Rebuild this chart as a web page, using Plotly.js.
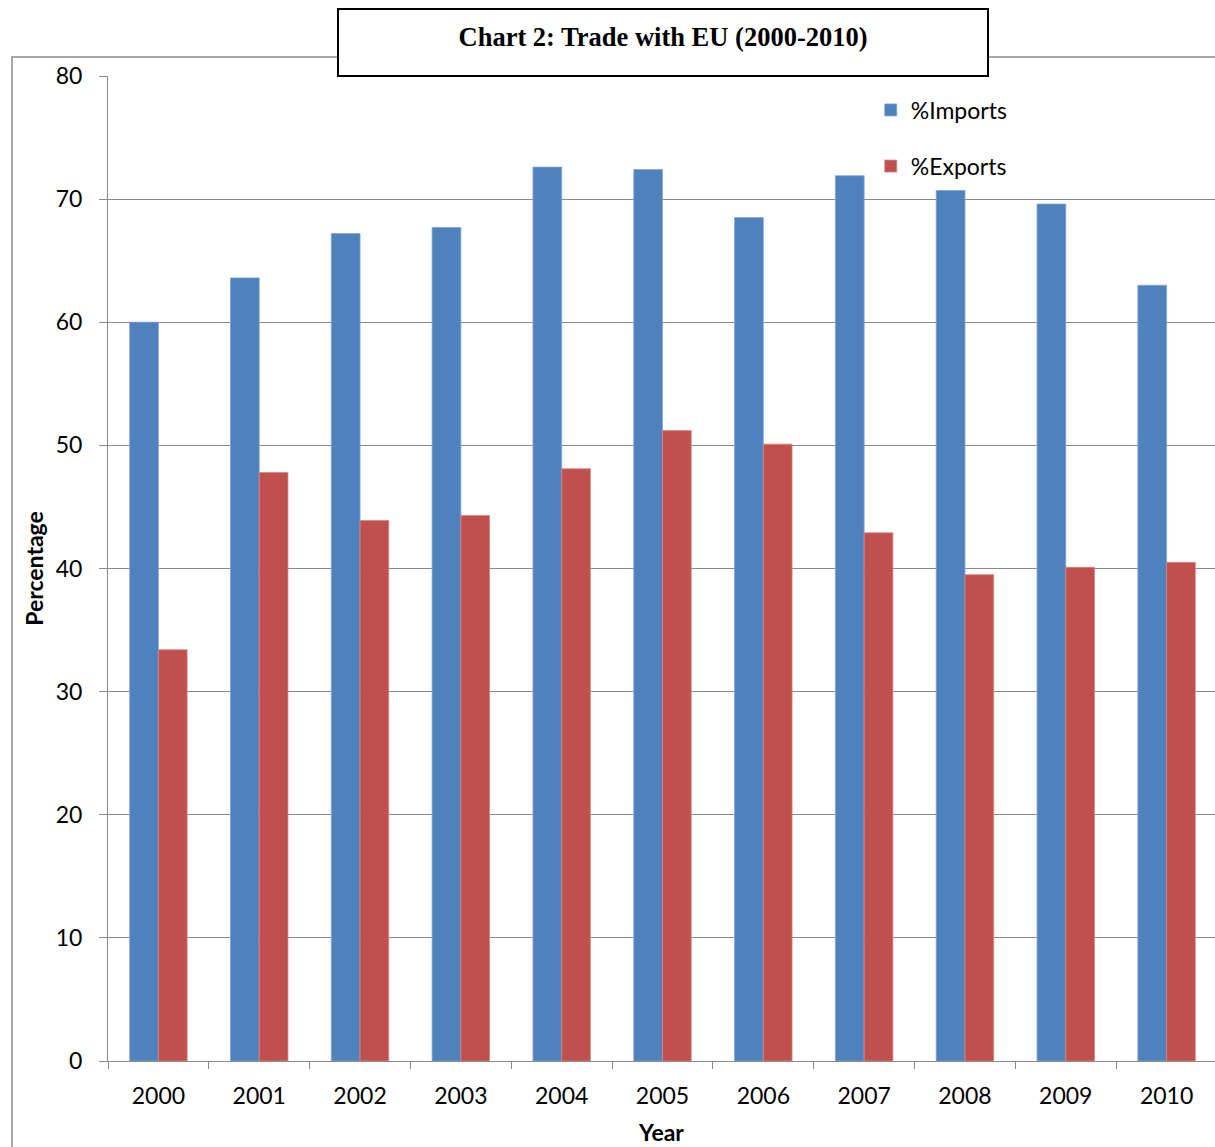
<!DOCTYPE html>
<html>
<head>
<meta charset="utf-8">
<script src="https://cdn.plot.ly/plotly-3.0.1.min.js"></script>
<style>
  html, body { margin: 0; padding: 0; background: #ffffff; overflow: hidden; }
  #chart { width: 1215px; height: 1147px; }
</style>
</head>
<body>
<div id="chart"></div>
<script>
// Share of trade with the EU, by year
const years = ['2000', '2001', '2002', '2003', '2004', '2005', '2006', '2007', '2008', '2009', '2010'];
const importsPct = [60.0, 63.6, 67.2, 67.7, 72.6, 72.4, 68.5, 71.9, 70.7, 69.6, 63.0];
const exportsPct = [33.4, 47.8, 43.9, 44.3, 48.1, 51.2, 50.1, 42.9, 39.5, 40.1, 40.5];
const yTicks = [0, 10, 20, 30, 40, 50, 60, 70, 80];

const blue = '#4F81BD';
const red = '#C0504D';
const gray = '#8A8A8A';
const sansFont = 'Lato, "Open Sans", sans-serif';
const labelSize = 23;

const traces = [
  {
    type: 'bar', name: '%Imports', x: years, y: importsPct,
    marker: { color: blue, line: { color: '#7FA3D1', width: 0.8 } },
    legend: 'legend', showlegend: true, hoverinfo: 'x+y'
  },
  {
    type: 'bar', name: '%Exports', x: years, y: exportsPct,
    marker: { color: red, line: { color: '#D48583', width: 0.8 } },
    legend: 'legend2', showlegend: true, hoverinfo: 'x+y'
  }
];

const legendCommon = {
  xanchor: 'left', yanchor: 'middle',
  bgcolor: 'rgba(0,0,0,0)', borderwidth: 0,
  font: { family: sansFont, size: labelSize, color: '#000000' },
  itemwidth: 30
};

const layout = {
  width: 1215, height: 1147,
  showlegend: true,
  margin: { l: 108, r: 0, t: 76, b: 86 },
  paper_bgcolor: '#ffffff', plot_bgcolor: '#ffffff',
  barmode: 'group', bargap: 0.43, bargroupgap: 0,
  title: {
    text: '<b>Chart 2: Trade with EU (2000-2010)</b>',
    font: { family: '"Liberation Serif", "Times New Roman", serif', size: 26.5, color: '#000000' },
    xref: 'paper', x: 0.5014, xanchor: 'center',
    yref: 'container', y: 1 - 37 / 1147, yanchor: 'middle'
  },
  xaxis: {
    type: 'category', range: [-0.5, 10.48],
    showline: true, linecolor: gray, linewidth: 1,
    ticks: 'outside', tickson: 'boundaries', ticklen: 7, tickcolor: gray, tickwidth: 1,
    showgrid: false, zeroline: false,
    tickfont: { family: sansFont, size: labelSize, color: '#000000' },
    ticklabelstandoff: 14,
    title: { text: '<b>Year</b>', font: { family: sansFont, size: labelSize, color: '#000000' }, standoff: 17 }
  },
  yaxis: {
    range: [0, 80], tickvals: yTicks,
    showline: true, linecolor: gray, linewidth: 1,
    ticks: 'outside', ticklen: 8, tickcolor: gray, tickwidth: 1,
    showgrid: true, gridcolor: gray, gridwidth: 1, zeroline: false,
    tickfont: { family: sansFont, size: labelSize, color: '#000000' },
    ticklabelstandoff: 12,
    title: { text: '<b>Percentage</b>', font: { family: sansFont, size: labelSize, color: '#000000' }, standoff: 5 }
  },
  legend: Object.assign({ x: 0.689, y: 0.9655 }, legendCommon),
  legend2: Object.assign({ x: 0.689, y: 0.9085 }, legendCommon),
  shapes: [
    // outer chart border (runs off the right and bottom edges)
    {
      type: 'rect', xref: 'paper', yref: 'paper',
      x0: (12 - 108) / 1107, x1: 1.2, y0: -0.3, y1: (1061 - 57) / 985,
      line: { color: gray, width: 1.5 }, fillcolor: 'rgba(0,0,0,0)', layer: 'above'
    },
    // title box
    {
      type: 'rect', xref: 'paper', yref: 'paper',
      x0: (338 - 108) / 1107, x1: (988 - 108) / 1107,
      y0: (1061 - 76) / 985, y1: (1061 - 9) / 985,
      line: { color: '#000000', width: 2 }, fillcolor: '#ffffff', layer: 'above'
    }
  ]
};

Plotly.newPlot('chart', traces, layout, { displayModeBar: false, staticPlot: true });
</script>
</body>
</html>
